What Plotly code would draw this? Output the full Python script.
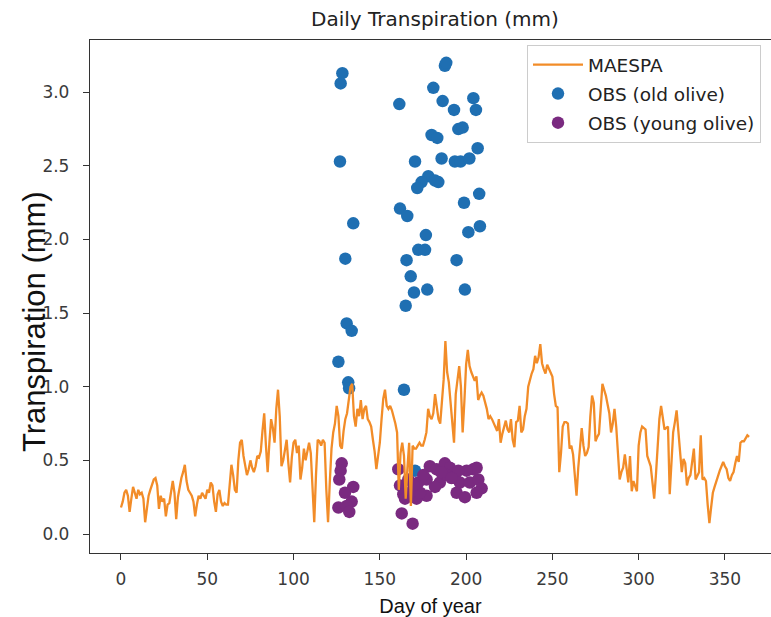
import plotly.graph_objects as go

# MAESPA modelled daily transpiration (mm), day 0..364
maespa = [
    0.18, 0.22, 0.28, 0.30, 0.26, 0.15, 0.24, 0.32, 0.28, 0.24,
    0.30, 0.27, 0.28, 0.24, 0.08, 0.18, 0.26, 0.30, 0.34, 0.37,
    0.38, 0.33, 0.17, 0.26, 0.22, 0.24, 0.12, 0.20, 0.21, 0.30,
    0.36, 0.28, 0.10, 0.25, 0.33, 0.38, 0.42, 0.47, 0.36, 0.30,
    0.28, 0.26, 0.22, 0.12, 0.20, 0.26, 0.24, 0.28, 0.26, 0.24,
    0.30, 0.28, 0.35, 0.33, 0.22, 0.15, 0.27, 0.30, 0.22, 0.19,
    0.21, 0.20, 0.20, 0.32, 0.47, 0.40, 0.30, 0.28, 0.50, 0.62,
    0.64, 0.53, 0.46, 0.40, 0.44, 0.50, 0.45, 0.42, 0.46, 0.53,
    0.52, 0.56, 0.70, 0.82, 0.60, 0.42, 0.62, 0.78, 0.72, 0.62,
    0.85, 0.98, 0.80, 0.46, 0.50, 0.58, 0.64, 0.48, 0.35, 0.52,
    0.62, 0.64, 0.55, 0.60, 0.37, 0.45, 0.58, 0.50, 0.55, 0.62,
    0.55, 0.30, 0.08, 0.40, 0.64, 0.63, 0.60, 0.64, 0.62, 0.30,
    0.08, 0.35, 0.58, 0.69, 0.75, 0.87, 0.80, 0.60, 0.58, 0.70,
    0.78, 0.82, 0.92, 1.00, 1.02, 0.80, 0.73, 0.85, 0.80, 0.91,
    0.78, 0.85, 0.87, 0.78, 0.76, 0.73, 0.64, 0.56, 0.44, 0.55,
    0.62, 0.78, 0.92, 0.98, 0.87, 0.85, 0.87, 0.84, 0.80, 0.75,
    0.69, 0.30, 0.55, 0.62, 0.53, 0.24, 0.45, 0.62, 0.19, 0.60,
    0.58, 0.58, 0.60, 0.62, 0.60, 0.60, 0.64, 0.69, 0.85, 0.80,
    0.78, 0.82, 0.95, 0.85, 0.78, 0.75, 0.90, 1.05, 1.31, 1.10,
    1.03, 0.90, 0.76, 0.62, 0.95, 1.07, 1.14, 1.00, 0.69, 0.90,
    1.15, 1.25, 1.14, 1.10, 1.07, 1.04, 1.07, 0.91, 0.94, 0.96,
    0.94, 0.90, 0.85, 0.78, 0.80, 0.78, 0.75, 0.73, 0.70, 0.78,
    0.62, 0.68, 0.73, 0.77, 0.71, 0.69, 0.78, 0.64, 0.59, 0.76,
    0.77, 0.87, 0.69, 0.71, 0.80, 0.85, 1.00, 1.05, 1.09, 1.12,
    1.21, 1.16, 1.20, 1.29, 1.16, 1.12, 1.09, 1.15, 1.12, 1.10,
    1.07, 0.95, 0.87, 0.86, 0.42, 0.55, 0.73, 0.76, 0.76, 0.75,
    0.58, 0.60, 0.54, 0.40, 0.26, 0.45, 0.58, 0.72, 0.60, 0.53,
    0.55, 0.59, 0.80, 0.94, 0.89, 0.63, 0.66, 0.68, 0.85, 1.02,
    0.98, 0.94, 0.88, 0.82, 0.69, 0.75, 0.85, 0.73, 0.55, 0.37,
    0.42, 0.45, 0.54, 0.45, 0.35, 0.53, 0.29, 0.36, 0.32, 0.29,
    0.60, 0.69, 0.73, 0.72, 0.71, 0.53, 0.50, 0.46, 0.35, 0.24,
    0.40, 0.64, 0.78, 0.87, 0.80, 0.71, 0.72, 0.73, 0.27, 0.50,
    0.69, 0.76, 0.84, 0.70, 0.55, 0.42, 0.51, 0.48, 0.33, 0.38,
    0.40, 0.50, 0.58, 0.37, 0.40, 0.42, 0.67, 0.37, 0.38, 0.36,
    0.20, 0.074, 0.18, 0.28, 0.32, 0.36, 0.40, 0.43, 0.46, 0.49,
    0.46, 0.44, 0.38, 0.36, 0.40, 0.42, 0.48, 0.53, 0.49, 0.62,
    0.63, 0.63, 0.65, 0.67, 0.66,
]
maespa_days = list(range(len(maespa)))

# Observations, old olive
old_days = [128.3, 127.3, 126.9, 134.6, 130.0, 130.8, 133.7, 126.0, 131.7, 132.2,
            164.0, 161.3, 187.7, 188.5, 181.0, 186.4, 193.0, 204.2, 205.7, 195.5,
            198.0, 180.0, 183.3, 206.7, 170.4, 185.8, 193.5, 196.8, 201.9, 178.1,
            174.2, 171.7, 183.9, 182.0, 207.6, 198.8, 161.7, 165.9, 208.0, 201.3,
            176.7, 172.3, 176.2, 165.5, 194.5, 167.9, 169.8, 177.5, 199.3, 165.0,
            170.4]
old_vals = [3.13, 3.06, 2.53, 2.11, 1.87, 1.43, 1.38, 1.17, 1.03, 0.99,
            0.98, 2.92, 3.18, 3.20, 3.03, 2.94, 2.88, 2.96, 2.88, 2.75,
            2.76, 2.71, 2.69, 2.62, 2.53, 2.55, 2.53, 2.53, 2.55, 2.43,
            2.39, 2.35, 2.39, 2.40, 2.31, 2.25, 2.21, 2.16, 2.09, 2.05,
            2.03, 1.93, 1.93, 1.86, 1.86, 1.75, 1.64, 1.66, 1.66, 1.55,
            0.43]

# Observations, young olive
young_days = [127.9, 127.3, 126.5, 134.6, 129.8, 133.7, 126.0, 130.8, 132.3,
              160.7, 161.7, 163.6, 162.7, 169.0, 166.5, 164.6,
              172.3, 177.1, 179.0, 182.9, 187.7, 190.6, 184.8, 177.1, 171.3, 167.5,
              193.5, 196.4, 194.5, 199.3, 202.2, 204.2, 207.1, 209.0, 206.1, 200.3,
              195.5, 182.0, 173.3, 175.2, 188.7, 206.1, 169.5, 185.5, 191.5]
young_vals = [0.48, 0.43, 0.37, 0.32, 0.28, 0.22, 0.18, 0.19, 0.15,
              0.44, 0.33, 0.27, 0.14, 0.07, 0.37, 0.24,
              0.35, 0.37, 0.46, 0.44, 0.48, 0.45, 0.35, 0.26, 0.24, 0.28,
              0.38, 0.35, 0.28, 0.25, 0.35, 0.44, 0.37, 0.31, 0.45, 0.43,
              0.43, 0.32, 0.28, 0.40, 0.40, 0.28, 0.33, 0.42, 0.38]

x_ticks = [0, 50, 100, 150, 200, 250, 300, 350]
y_ticks = [0.0, 0.5, 1.0, 1.5, 2.0, 2.5, 3.0]

TICKFONT = dict(family="DejaVu Sans", size=17, color="#3a3a3a")

fig = go.Figure()
fig.add_trace(go.Scatter(
    x=old_days, y=old_vals, mode="markers", name="OBS (old olive)",
    marker=dict(color="#1f6fb2", size=12.5, line=dict(width=0)),
    legendrank=2, legendgroup="b"))
fig.add_trace(go.Scatter(
    x=young_days, y=young_vals, mode="markers", name="OBS (young olive)",
    marker=dict(color="#7a2a80", size=12.5, line=dict(width=0)),
    legendrank=3, legendgroup="c"))
fig.add_trace(go.Scatter(
    x=maespa_days, y=maespa, mode="lines", name="MAESPA",
    line=dict(color="#f28c28", width=2.3),
    legendrank=1, legendgroup="a"))

fig.update_layout(
    width=771, height=617,
    margin=dict(l=90, r=0, t=40, b=64),
    paper_bgcolor="white", plot_bgcolor="white",
    showlegend=True,
    title=dict(text="Daily Transpiration (mm)", x=435 / 771, xanchor="center",
               y=1 - 19 / 617, yanchor="middle",
               font=dict(family="DejaVu Sans", size=20, color="#222222")),
    legend=dict(x=(527 - 90) / 681, y=(553 - 45) / 513, xanchor="left", yanchor="top",
                bgcolor="rgba(255,255,255,0.85)", bordercolor="#cccccc", borderwidth=1,
                font=dict(family="DejaVu Sans", size=18.5, color="#222222"),
                itemwidth=50, tracegroupgap=2),
    xaxis=dict(range=[-17.96, 376.7], tickmode="array", tickvals=x_ticks,
               ticks="outside", ticklen=6, tickwidth=1.3, tickcolor="#333333",
               ticklabelstandoff=4,
               showline=True, linecolor="#333333", linewidth=1.3, mirror=True,
               showgrid=False, zeroline=False, tickfont=TICKFONT,
               title=dict(text="Day of year", standoff=14,
                          font=dict(family="Liberation Sans", size=20, color="#111111"))),
    yaxis=dict(range=[-0.129, 3.355], tickmode="array", tickvals=y_ticks,
               tickformat=".1f",
               ticks="outside", ticklen=6, tickwidth=1.3, tickcolor="#333333",
               ticklabelstandoff=10,
               showline=True, linecolor="#333333", linewidth=1.3,
               showgrid=False, zeroline=False, tickfont=TICKFONT),
    annotations=[dict(text="Transpiration (mm)", textangle=-90,
                      xref="paper", yref="paper",
                      x=(34 - 90) / 681, y=(553 - 322) / 513,
                      xanchor="center", yanchor="middle", showarrow=False,
                      font=dict(family="Liberation Sans", size=31, color="#111111"))],
)

fig.write_html("out.html")
